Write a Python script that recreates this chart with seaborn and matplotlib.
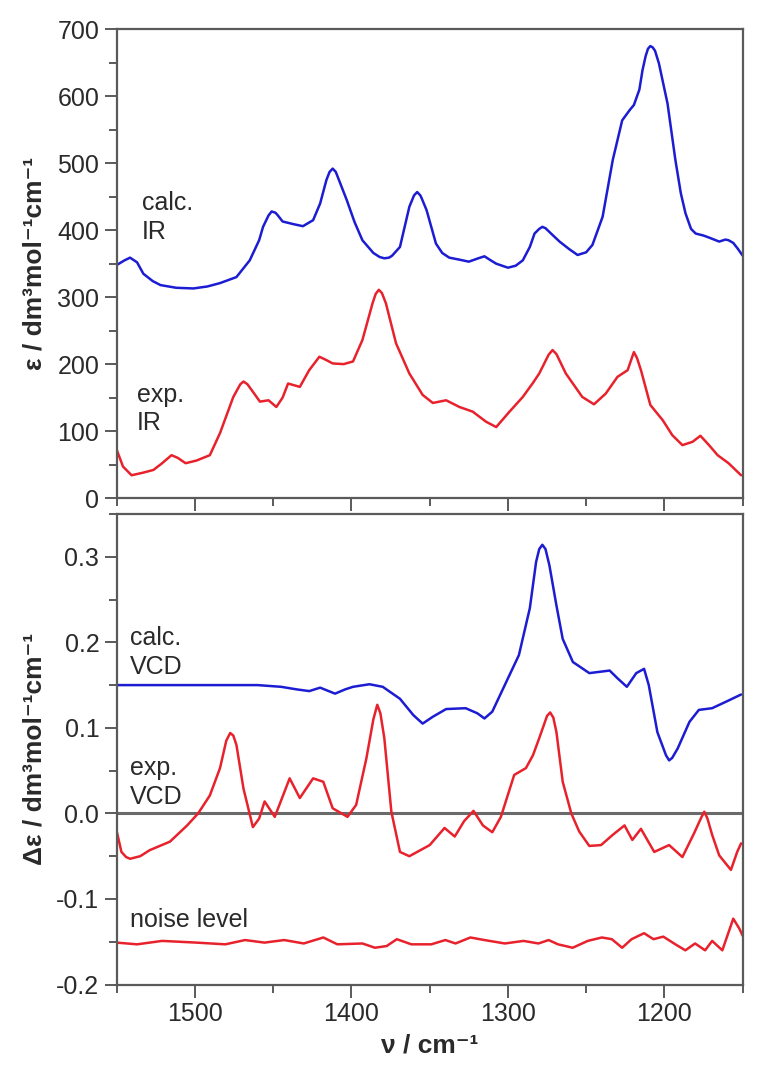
import matplotlib
matplotlib.use("Agg")
import matplotlib.pyplot as plt
import seaborn as sns
import pandas as pd
from matplotlib.ticker import MultipleLocator

# ---------------- data ----------------
calc_ir_x = [1550, 1545, 1541.5, 1537, 1533, 1527, 1522, 1512, 1501, 1492, 1484, 1473.5, 1465, 1459,
             1456.5, 1453, 1451, 1448.5, 1447, 1444, 1437, 1431, 1424.5, 1420, 1416, 1414, 1412, 1410,
             1408, 1403, 1398, 1393, 1386, 1382, 1379, 1376, 1374, 1369, 1363, 1360, 1358, 1356, 1355,
             1352, 1346, 1342, 1337.5, 1331, 1325, 1319, 1315, 1311, 1307.5, 1300, 1295, 1290.5, 1286,
             1283, 1280, 1278, 1276, 1272, 1267, 1261, 1255.5, 1250, 1246, 1239.5, 1233, 1227, 1222,
             1219.5, 1216, 1214, 1212, 1210.5, 1209, 1207.5, 1206, 1203.5, 1198, 1193, 1189.5, 1186.5,
             1183, 1180, 1175, 1171.5, 1165, 1161, 1159, 1156, 1153, 1150]
calc_ir_y = [348, 355, 359, 352, 335, 324, 318, 314, 313, 316, 321, 330, 355, 385,
             405, 422, 428, 426, 422, 413, 409, 406, 415, 440, 475, 487, 492, 487,
             475, 445, 412, 385, 366, 360, 358, 359, 362, 375, 435, 452, 457, 452, 447,
             430, 380, 366, 359, 356, 353, 358, 361, 355, 350, 344, 347, 355, 375,
             395, 402, 405, 403, 394, 383, 372, 363, 367, 378, 420, 505, 564, 580,
             587, 610, 639, 660, 671, 675, 673, 668, 649, 589, 505, 455, 425,
             402, 395, 392, 389, 383, 386, 385, 381, 372, 362]

exp_ir_x = [1550, 1546, 1540.5, 1533, 1526.5, 1521, 1515, 1511, 1506, 1499, 1490.5, 1484, 1475.5,
            1471, 1469, 1466.5, 1464, 1458.5, 1453, 1448, 1444, 1440.5, 1433, 1427, 1420.5, 1416, 1412,
            1405, 1399, 1393, 1386.5, 1384.5, 1382.5, 1380.5, 1378, 1371.5, 1363, 1354.5, 1348, 1339.5,
            1331, 1322.5, 1314, 1307.5, 1299, 1290.5, 1284, 1280, 1274, 1271.5, 1269, 1263, 1252.5,
            1245, 1237.5, 1230, 1223.5, 1221, 1219.5, 1217.5, 1215, 1209, 1201, 1195, 1188.5, 1182,
            1177, 1171.5, 1166, 1159, 1151]
exp_ir_y = [72, 47, 34, 38, 42, 52, 64, 60, 52, 56, 64, 97, 151,
            170, 174, 170, 162, 144, 146, 136, 150, 171, 166, 191, 211, 206, 201,
            200, 204, 236, 291, 305, 311, 306, 291, 231, 186, 154, 142, 146,
            136, 129, 114, 106, 129, 151, 172, 186, 214, 221, 215, 186, 151,
            140, 156, 181, 191, 208, 218, 209, 191, 139, 116, 94, 79, 84,
            93, 79, 64, 52, 34]

calc_vcd_x = [1550, 1520, 1490, 1460, 1445, 1435, 1427, 1420, 1410.5, 1404, 1399, 1388.5, 1380, 1369,
              1360.5, 1354.5, 1348, 1339.5, 1327, 1319.5, 1315, 1310, 1301, 1293, 1286, 1282, 1280,
              1278, 1276, 1273.5, 1269, 1265, 1258.5, 1248, 1235, 1230, 1224, 1218, 1213, 1210, 1204.5,
              1199, 1197, 1195, 1191.5, 1184, 1178, 1169.5, 1159, 1151]
calc_vcd_y = [0.150, 0.150, 0.150, 0.150, 0.148, 0.145, 0.143, 0.147, 0.140, 0.145, 0.148, 0.151, 0.148, 0.134,
              0.115, 0.105, 0.113, 0.122, 0.123, 0.117, 0.111, 0.119, 0.154, 0.185, 0.240, 0.294, 0.309,
              0.314, 0.309, 0.290, 0.243, 0.204, 0.177, 0.164, 0.167, 0.158, 0.148, 0.164, 0.169, 0.150, 0.095,
              0.068, 0.062, 0.065, 0.076, 0.107, 0.121, 0.123, 0.132, 0.139]

exp_vcd_x = [1550, 1547, 1544, 1541.5, 1535, 1529, 1516, 1505, 1498, 1490.5, 1484, 1480, 1477.5, 1475.5,
             1473.5, 1469, 1463, 1459, 1455.5, 1449, 1439.5, 1433, 1424.5, 1418, 1412, 1402.5, 1397,
             1390.5, 1386, 1383.5, 1381.5, 1379, 1374.5, 1369, 1363, 1350, 1340.5, 1334, 1328, 1322, 1316,
             1310, 1304.5, 1296, 1288.5, 1284, 1280, 1275, 1273, 1271, 1269, 1265, 1259.5, 1254.5, 1248,
             1240.5, 1233, 1225.5, 1220.5, 1215, 1206.5, 1197, 1188.5, 1181, 1176.5, 1174.5, 1172.5,
             1169.5, 1165, 1157.5, 1153.5, 1151]
exp_vcd_y = [-0.021, -0.045, -0.051, -0.053, -0.050, -0.043, -0.033, -0.014, 0.000, 0.021, 0.053, 0.085, 0.094,
             0.091, 0.080, 0.029, -0.016, -0.006, 0.014, -0.004, 0.041, 0.018, 0.041, 0.037, 0.006, -0.004,
             0.010, 0.064, 0.110, 0.127, 0.117, 0.088, 0.002, -0.045, -0.050, -0.037, -0.017, -0.027, -0.009,
             0.003, -0.014, -0.022, -0.004, 0.045, 0.053, 0.068, 0.088, 0.114, 0.118, 0.112, 0.095, 0.037,
             0.000, -0.021, -0.038, -0.037, -0.025, -0.014, -0.031, -0.018, -0.045, -0.037, -0.051, -0.023,
             -0.005, 0.002, -0.006, -0.025, -0.049, -0.066, -0.045, -0.035]

noise_x = [1550, 1537, 1521, 1499, 1480.6, 1468, 1455.6, 1443, 1430.5, 1418, 1409, 1393, 1385, 1377.5,
           1371, 1361.7, 1349, 1340, 1333.5, 1324, 1315, 1302, 1290, 1280.5, 1274, 1268, 1258.6, 1249,
           1240, 1233.6, 1227, 1221, 1213, 1207, 1200.7, 1193, 1186.6, 1180.4, 1174, 1169.5, 1163,
           1156, 1152, 1150]
noise_y = [-0.151, -0.153, -0.149, -0.151, -0.153, -0.148, -0.151, -0.148, -0.152, -0.145, -0.153, -0.152,
           -0.157, -0.155, -0.147, -0.153, -0.153, -0.148, -0.152, -0.145, -0.148, -0.152, -0.149, -0.152,
           -0.148, -0.153, -0.157, -0.149, -0.145, -0.147, -0.157, -0.147, -0.140, -0.147, -0.144, -0.153,
           -0.160, -0.152, -0.160, -0.149, -0.160, -0.123, -0.135, -0.143]

x_major_ticks = [1500, 1400, 1300, 1200]
ir_yticks = [0, 100, 200, 300, 400, 500, 600, 700]
vcd_yticks = [-0.2, -0.1, 0.0, 0.1, 0.2, 0.3]

# ---------------- style ----------------
sns.set_style("ticks")
plt.rcParams["font.family"] = ["Liberation Sans", "DejaVu Sans"]

BLUE = "#1c1cd2"
RED = "#e8222c"
SPINE = "#5a5a5a"
TXT = "#2a2a2a"
FS = 18

fig = plt.figure(figsize=(7.68, 10.78), dpi=100)
ax1 = fig.add_axes([0.152, 0.538, 0.815, 0.4348])
ax2 = fig.add_axes([0.152, 0.0867, 0.815, 0.4365])

df_calc_ir = pd.DataFrame({"x": calc_ir_x, "y": calc_ir_y})
df_exp_ir = pd.DataFrame({"x": exp_ir_x, "y": exp_ir_y})
df_calc_vcd = pd.DataFrame({"x": calc_vcd_x, "y": calc_vcd_y})
df_exp_vcd = pd.DataFrame({"x": exp_vcd_x, "y": exp_vcd_y})
df_noise = pd.DataFrame({"x": noise_x, "y": noise_y})

line_kw = dict(lw=1.8, estimator=None, sort=False, solid_joinstyle="round", solid_capstyle="round")
sns.lineplot(data=df_calc_ir, x="x", y="y", ax=ax1, color=BLUE, **line_kw)
sns.lineplot(data=df_exp_ir, x="x", y="y", ax=ax1, color=RED, **line_kw)

ax2.axhline(0.0, color="#6a6a6a", lw=2.2, zorder=1)
sns.lineplot(data=df_calc_vcd, x="x", y="y", ax=ax2, color=BLUE, **line_kw)
sns.lineplot(data=df_exp_vcd, x="x", y="y", ax=ax2, color=RED, **line_kw)
sns.lineplot(data=df_noise, x="x", y="y", ax=ax2, color=RED, **line_kw)

for ax in (ax1, ax2):
    ax.set_xlim(1550, 1150)
    ax.xaxis.set_major_locator(plt.FixedLocator(x_major_ticks))
    ax.xaxis.set_minor_locator(MultipleLocator(50))
    for s in ax.spines.values():
        s.set_color(SPINE)
        s.set_linewidth(1.6)
        s.set_visible(True)
    ax.tick_params(which="major", direction="out", length=9, width=1.4, color=SPINE,
                   labelsize=FS, labelcolor=TXT, top=False, right=False)
    ax.tick_params(which="minor", direction="out", length=6, width=1.4, color=SPINE,
                   top=False, right=False)
    ax.set_xlabel("")
    ax.set_ylabel("")

ax1.set_ylim(0, 700)
ax1.set_yticks(ir_yticks)
ax1.yaxis.set_minor_locator(MultipleLocator(50))
ax1.tick_params(axis="x", labelbottom=False)

ax2.set_ylim(-0.2, 0.35)
ax2.set_yticks(vcd_yticks)
ax2.set_yticklabels([f"{v:.1f}" for v in vcd_yticks])
ax2.yaxis.set_minor_locator(MultipleLocator(0.05))

ax1.set_ylabel("ε / dm³mol⁻¹cm⁻¹", fontsize=19, fontweight="bold", color=TXT)
ax1.yaxis.set_label_coords(-0.112, 0.5)
ax2.set_ylabel("Δε / dm³mol⁻¹cm⁻¹", fontsize=19, fontweight="bold", color=TXT)
ax2.yaxis.set_label_coords(-0.112, 0.5)
ax2.set_xlabel("ν / cm⁻¹", fontsize=19, fontweight="bold", color=TXT)
ax2.xaxis.set_label_coords(0.5, -0.105)

txt_kw = dict(fontsize=FS, color=TXT, ha="left", va="center", linespacing=1.25)
ax1.text(1534, 419, "calc.\nIR", **txt_kw)
ax1.text(1537, 133, "exp.\nIR", **txt_kw)
ax2.text(1541.5, 0.1885, "calc.\nVCD", **txt_kw)
ax2.text(1541.5, 0.036, "exp.\nVCD", **txt_kw)
ax2.text(1541.5, -0.125, "noise level", **txt_kw)

fig.savefig("out.png", dpi=100)
